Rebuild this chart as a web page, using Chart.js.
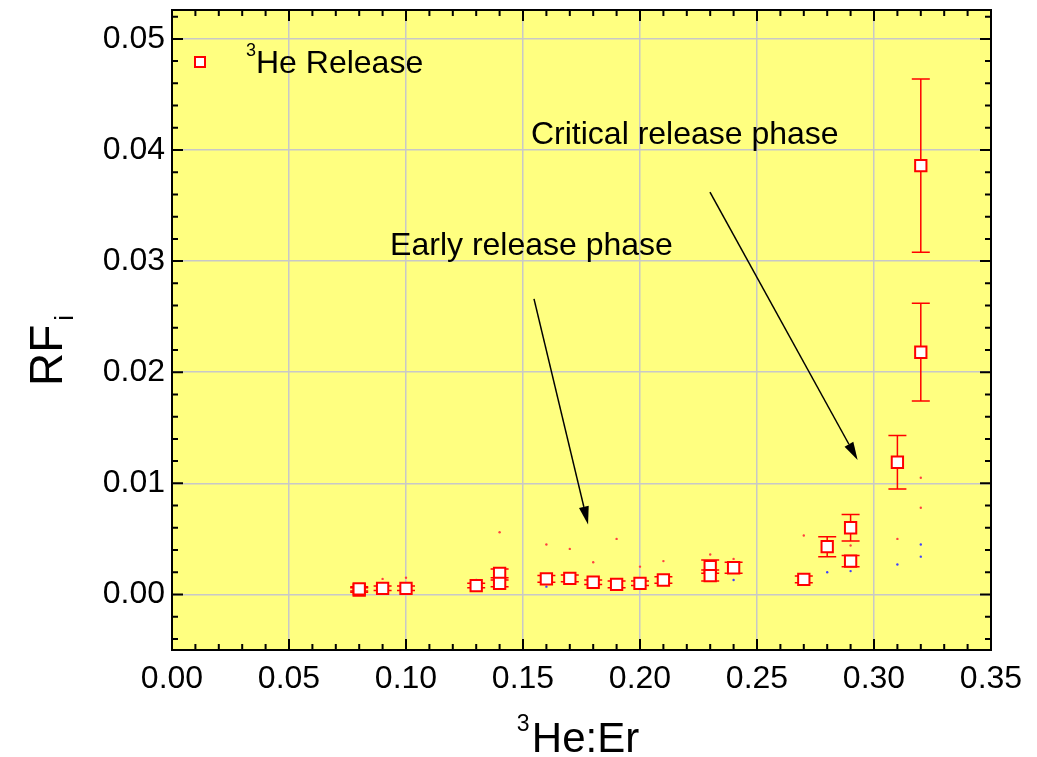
<!DOCTYPE html>
<html>
<head>
<meta charset="utf-8">
<script src="https://cdn.jsdelivr.net/npm/chart.js@4/dist/chart.umd.min.js"></script>
<style>
  body { margin: 0; background: #fff; }
</style>
</head>
<body>
<canvas id="myChart" width="1037" height="757"></canvas>
<script>
// tick labels
const xTicks = [0, 0.05, 0.10, 0.15, 0.20, 0.25, 0.30, 0.35];
const yTicks = [0, 0.01, 0.02, 0.03, 0.04, 0.05];

// 3He release, RF_i with error
const heX   = [0.08, 0.08, 0.09, 0.10, 0.13, 0.14, 0.14, 0.16, 0.17, 0.18, 0.19, 0.20, 0.21, 0.23, 0.23, 0.24, 0.27, 0.28, 0.29, 0.29, 0.31, 0.32, 0.32];
const heY   = [0.0004, 0.0005, 0.00055, 0.00055, 0.0008, 0.0019, 0.0010, 0.0014, 0.00145, 0.0011, 0.0009, 0.0010, 0.0013, 0.0025, 0.0017, 0.0024, 0.00135, 0.0043, 0.0060, 0.0030, 0.0119, 0.0386, 0.0218];
const heErr = [0.0002, 0.0002, 0.0002, 0.0002, 0.0002, 0.0004, 0.0003, 0.0003, 0.0003, 0.0002, 0.0003, 0.0002, 0.0003, 0.0006, 0.0005, 0.0005, 0.0003, 0.0009, 0.0012, 0.0005, 0.0024, 0.0078, 0.0044];

// the tiny stray dots
const redDotX = [0.09, 0.10, 0.14, 0.16, 0.17, 0.18, 0.19, 0.20, 0.21, 0.23, 0.24, 0.27, 0.29, 0.31, 0.32, 0.32];
const redDotY = [0.0014, 0.0015, 0.0056, 0.0045, 0.0041, 0.0029, 0.0050, 0.0025, 0.0030, 0.0036, 0.0032, 0.0053, 0.0044, 0.0050, 0.0105, 0.0078];
const blueDotX = [0.13, 0.16, 0.17, 0.19, 0.24, 0.28, 0.29, 0.31, 0.32, 0.32];
const blueDotY = [0.0013, 0.0007, 0.0014, 0.0008, 0.0013, 0.0020, 0.0021, 0.0027, 0.0045, 0.0034];

const notes = [
  { text: 'Critical release phase', x: 0.1534, y: 0.0413 },
  { text: 'Early release phase', x: 0.0932, y: 0.0313 }
];
const arrows = [
  { x0: 0.1547, y0: 0.0266, x1: 0.1778, y1: 0.0063 },
  { x0: 0.2299, y0: 0.0362, x1: 0.2930, y1: 0.0121 }
];

const FONT = '"Liberation Sans", Arial, sans-serif';
const RED = '#ff0000';

const toPts = (xs, ys) => xs.map((x, i) => ({ x: x, y: ys[i] }));

// error bars, drawn under the markers
const errorBars = {
  id: 'errorBars',
  beforeDatasetsDraw(chart) {
    const ctx = chart.ctx, xs = chart.scales.x, ys = chart.scales.y;
    ctx.save();
    ctx.strokeStyle = RED;
    ctx.lineWidth = 1.5;
    heX.forEach((x, i) => {
      const px = xs.getPixelForValue(x);
      const top = ys.getPixelForValue(heY[i] + heErr[i]);
      const bot = ys.getPixelForValue(heY[i] - heErr[i]);
      ctx.beginPath();
      ctx.moveTo(px, top); ctx.lineTo(px, bot);
      ctx.moveTo(px - 9, top); ctx.lineTo(px + 9, top);
      ctx.moveTo(px - 9, bot); ctx.lineTo(px + 9, bot);
      ctx.stroke();
    });
    ctx.restore();
  }
};

// frame, inward ticks on all sides, arrows, notes, legend, titles
const decorations = {
  id: 'decorations',
  afterDraw(chart) {
    const ctx = chart.ctx, a = chart.chartArea;
    const xs = chart.scales.x, ys = chart.scales.y;
    ctx.save();
    ctx.strokeStyle = '#000';
    ctx.lineWidth = 2;

    // x ticks (minor every 0.01)
    for (let k = 0; k <= 35; k++) {
      const px = xs.getPixelForValue(k / 100);
      const len = k % 5 === 0 ? 11 : 6;
      ctx.beginPath();
      ctx.moveTo(px, a.bottom); ctx.lineTo(px, a.bottom - len);
      ctx.moveTo(px, a.top); ctx.lineTo(px, a.top + len);
      ctx.stroke();
    }
    // y ticks (minor every 0.002)
    for (let k = -2; k <= 26; k++) {
      const py = ys.getPixelForValue(k / 500);
      if (py < a.top || py > a.bottom) continue;
      const len = k % 5 === 0 ? 11 : 6;
      ctx.beginPath();
      ctx.moveTo(a.left, py); ctx.lineTo(a.left + len, py);
      ctx.moveTo(a.right, py); ctx.lineTo(a.right - len, py);
      ctx.stroke();
    }
    ctx.strokeRect(a.left, a.top, a.right - a.left, a.bottom - a.top);

    // arrows
    ctx.strokeStyle = '#000';
    ctx.fillStyle = '#000';
    ctx.lineWidth = 1.5;
    arrows.forEach(ar => {
      const x0 = xs.getPixelForValue(ar.x0), y0 = ys.getPixelForValue(ar.y0);
      const x1 = xs.getPixelForValue(ar.x1), y1 = ys.getPixelForValue(ar.y1);
      const ang = Math.atan2(y1 - y0, x1 - x0);
      const hl = 18, hw = 5;
      const bx = x1 - hl * Math.cos(ang), by = y1 - hl * Math.sin(ang);
      ctx.beginPath();
      ctx.moveTo(x0, y0); ctx.lineTo(bx, by);
      ctx.stroke();
      ctx.beginPath();
      ctx.moveTo(x1, y1);
      ctx.lineTo(bx + hw * Math.sin(ang), by - hw * Math.cos(ang));
      ctx.lineTo(bx - hw * Math.sin(ang), by + hw * Math.cos(ang));
      ctx.closePath();
      ctx.fill();
    });

    // notes
    ctx.font = '32px ' + FONT;
    ctx.textBaseline = 'middle';
    ctx.textAlign = 'left';
    notes.forEach(n => {
      ctx.fillText(n.text, xs.getPixelForValue(n.x), ys.getPixelForValue(n.y));
    });

    // legend
    const lx = a.left + 28, ly = a.top + 52;
    ctx.fillStyle = '#fff';
    ctx.fillRect(lx - 5, ly - 5, 10, 10);
    ctx.strokeStyle = RED;
    ctx.lineWidth = 2;
    ctx.strokeRect(lx - 5, ly - 5, 10, 10);
    ctx.fillStyle = '#000';
    ctx.textBaseline = 'alphabetic';
    ctx.font = '18px ' + FONT;
    ctx.fillText('3', a.left + 74, a.top + 46);
    ctx.font = '32px ' + FONT;
    ctx.fillText('He Release', a.left + 84, a.top + 63);

    // x title
    ctx.font = '42px ' + FONT;
    const t1 = 'He:Er';
    const w1 = ctx.measureText(t1).width;
    const cx = (a.left + a.right) / 2;
    ctx.fillText(t1, cx - w1 / 2 + 4, 752);
    ctx.font = '23px ' + FONT;
    ctx.fillText('3', cx - w1 / 2 - 11, 731);

    // y title
    ctx.translate(62, 386);
    ctx.rotate(-Math.PI / 2);
    ctx.font = '46px ' + FONT;
    ctx.fillText('RF', 0, 0);
    const w2 = ctx.measureText('RF').width;
    ctx.font = '26px ' + FONT;
    ctx.fillText('i', w2 + 4, 11);
    ctx.restore();
  }
};

const chart = new Chart(document.getElementById('myChart'), {
  type: 'scatter',
  data: {
    datasets: [{
      label: '3He Release',
      data: toPts(heX, heY),
      pointStyle: 'rect',
      pointRadius: 8,
      pointHoverRadius: 8,
      borderWidth: 2,
      borderColor: RED,
      backgroundColor: '#fff'
    }, {
      label: 'red dots',
      data: toPts(redDotX, redDotY),
      pointRadius: 1.2,
      borderWidth: 0,
      backgroundColor: '#ff4040'
    }, {
      label: 'blue dots',
      data: toPts(blueDotX, blueDotY),
      pointRadius: 1.2,
      borderWidth: 0,
      backgroundColor: '#4040ff'
    }]
  },
  options: {
    responsive: false,
    animation: false,
    events: [],
    layout: { padding: { left: 0, right: 46, top: 7, bottom: 0 } },
    plugins: { legend: { display: false }, tooltip: { enabled: false } },
    scales: {
      x: {
        type: 'linear',
        min: 0, max: 0.35,
        afterBuildTicks: s => { s.ticks = xTicks.map(v => ({ value: v })); },
        afterFit: s => { s.height = 107; s.paddingLeft = 0; s.paddingRight = 0; },
        ticks: {
          font: { family: FONT, size: 32 },
          color: '#000',
          padding: 10,
          maxRotation: 0,
          callback: v => v.toFixed(2)
        },
        grid: { color: '#c8c8c8', lineWidth: 1.5, drawTicks: false },
        border: { display: false }
      },
      y: {
        type: 'linear',
        min: -0.005, max: 0.0526,
        afterBuildTicks: s => { s.ticks = yTicks.map(v => ({ value: v })); },
        afterFit: s => { s.width = 172; s.paddingTop = 0; s.paddingBottom = 0; },
        ticks: {
          font: { family: FONT, size: 32 },
          color: '#000',
          padding: 7,
          callback: v => v.toFixed(2)
        },
        grid: { color: '#c8c8c8', lineWidth: 1.5, drawTicks: false },
        border: { display: false }
      }
    }
  },
  plugins: [{
    id: 'yellowBg',
    beforeDraw(c) {
      const a = c.chartArea;
      c.ctx.save();
      c.ctx.fillStyle = '#ffff80';
      c.ctx.fillRect(a.left, a.top, a.right - a.left, a.bottom - a.top);
      c.ctx.restore();
    }
  }, errorBars, decorations]
});
</script>
</body>
</html>
